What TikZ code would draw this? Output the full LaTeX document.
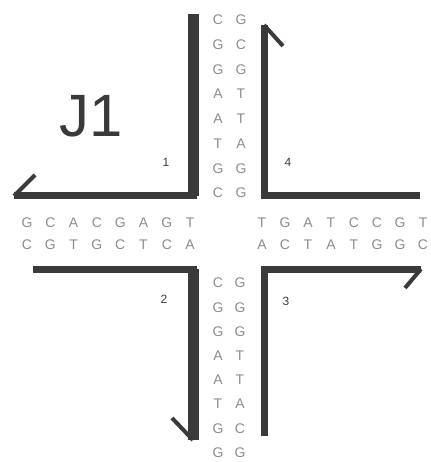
\documentclass[tikz,border=0pt]{standalone}
\usepackage{fontspec}
\setmainfont{Liberation Sans}
\usepackage{tikz}
\usetikzlibrary{positioning}
\definecolor{hjInk}{HTML}{3A3A3A}
\definecolor{hjBase}{HTML}{8C8C8C}
\tikzset{
  strand line/.style={draw=hjInk,line width=7bp,line join=miter},
  strand thick/.style={draw=hjInk,line width=11bp},
  strand hook/.style={draw=hjInk,line width=4bp},
  base letter/.style={text=hjBase,font=\fontsize{14}{14}\selectfont,inner sep=0pt},
  strand label/.style={text=hjInk,font=\fontsize{12}{12}\selectfont,inner sep=0pt}
}

\begin{document}
\begin{tikzpicture}[x=1bp,y=-1bp]
\useasboundingbox (0,0) rectangle (430,462);
% junction name and strand numbers
\node[font=\fontsize{60}{60}\selectfont,text=hjInk,inner sep=0pt] (name) at (91,116) {J1};
\node[strand label] (n1) at (166,162) {1};
\node[strand label] (n4) at (288,162) {4};
\node[strand label] (n2) at (164,299) {2};
\node[strand label] (n3) at (286,301) {3};
% bases of the four arms
\foreach \l [count=\i] in {C,G,G,A,A,T,G,C}
  \node[base letter] (top-l-\i) at (218,{20+24.7*(\i-1)}) {\l};
\foreach \l [count=\i] in {G,C,G,T,T,A,G,G}
  \node[base letter] (top-r-\i) at (241,{20+24.7*(\i-1)}) {\l};
\foreach \l [count=\i] in {C,G,G,A,A,T,G,G}
  \node[base letter] (bot-l-\i) at (218,{283+24.2*(\i-1)}) {\l};
\foreach \l [count=\i] in {G,G,G,T,T,A,C,G}
  \node[base letter] (bot-r-\i) at (240,{283+24.2*(\i-1)}) {\l};
\foreach \l [count=\i] in {G,C,A,C,G,A,G,T}
  \node[base letter] (left-t-\i) at ({27+23.3*(\i-1)},223) {\l};
\foreach \l [count=\i] in {C,G,T,G,C,T,C,A}
  \node[base letter] (left-b-\i) at ({27+23.3*(\i-1)},245) {\l};
\foreach \l [count=\i] in {T,G,A,T,C,C,G,T}
  \node[base letter] (right-t-\i) at ({262+23*(\i-1)},223) {\l};
\foreach \l [count=\i] in {A,C,T,A,T,G,G,C}
  \node[base letter] (right-b-\i) at ({262+23*(\i-1)},245) {\l};
% strand corners and ends
\coordinate (s1a) at (193,14);  \coordinate (s1b) at (193,196); \coordinate (s1c) at (14,196);
\coordinate (s1h) at (35,175);
\coordinate (s4a) at (420,196); \coordinate (s4b) at (264,196); \coordinate (s4c) at (264,25);
\coordinate (s4h) at (283,46);
\coordinate (s2a) at (33,269);  \coordinate (s2b) at (193,269); \coordinate (s2c) at (193,440);
\coordinate (s2h) at (172,418);
\coordinate (s3a) at (264,436); \coordinate (s3b) at (264,269); \coordinate (s3c) at (421,269);
\coordinate (s3h) at (405,288);
% strands
\draw[strand line] (s1a) -- (s1b) -- (s1c);
\draw[strand thick] (s1a) -- (s1b);
\draw[strand hook] (s1c) -- (s1h);
\draw[strand line] (s4a) -- (s4b) -- (s4c);
\draw[strand hook] (s4c) -- (s4h);
\draw[strand line] (s2a) -- (s2b) -- (s2c);
\draw[strand thick] (s2b) -- (s2c);
\draw[strand hook] (s2c) -- (s2h);
\draw[strand line] (s3a) -- (s3b) -- (s3c);
\draw[strand hook] (s3c) -- (s3h);
\end{tikzpicture}
\end{document}
